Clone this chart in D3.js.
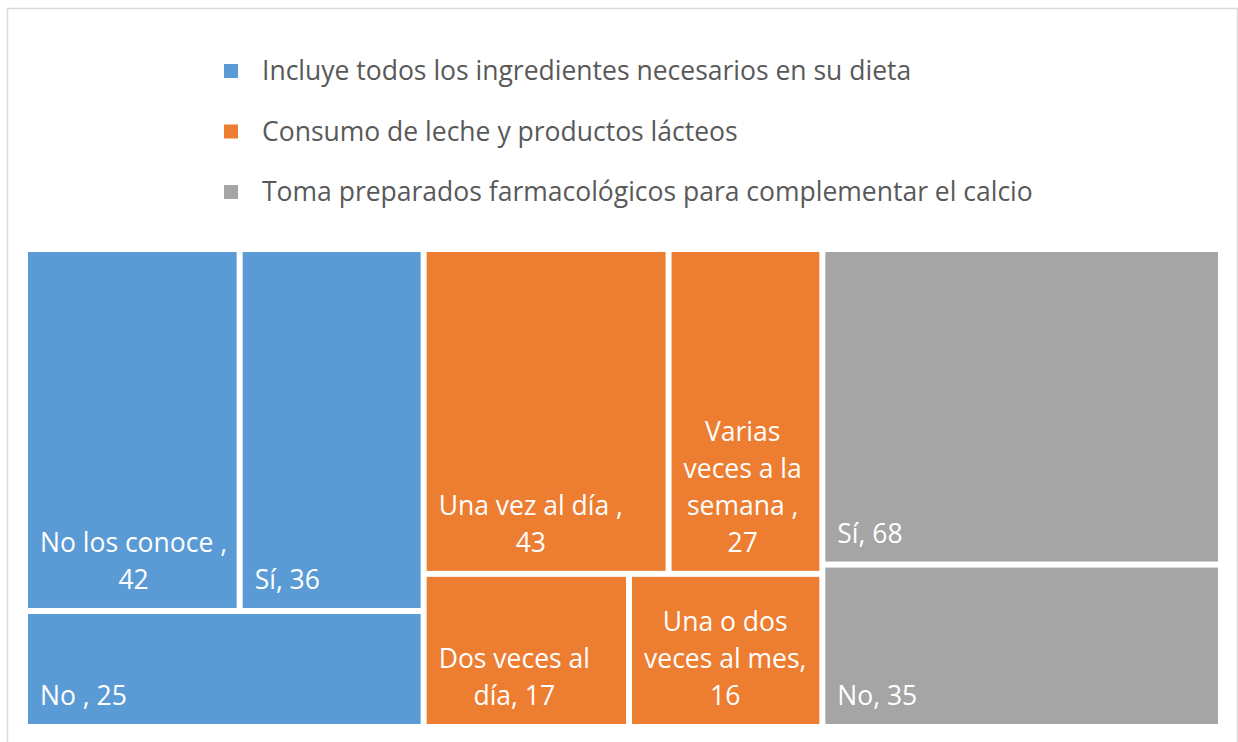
<!DOCTYPE html>
<html>
<head>
<meta charset="utf-8">
<script src="https://cdn.jsdelivr.net/npm/d3@7"></script>
<style>
	body { margin: 0; background: #fff; }
	svg { display: block; font-family: "Open Sans", Lato, sans-serif; }
</style>
</head>
<body>
<div id="chart"></div>
<script>

// categories (legend) and colours
var groupNames = [
	'Incluye todos los ingredientes necesarios en su dieta',
	'Consumo de leche y productos lácteos',
	'Toma preparados farmacológicos para complementar el calcio'
];
var groupColors = ['#5B9BD5', '#ED7D31', '#A5A5A5'];

// leaves of each group
var dietaNames = ['No los conoce ', 'Sí', 'No '];
var dietaValues = [42, 36, 25];

var lecheNames = ['Una vez al día ', 'Varias veces a la semana ', 'Dos veces al día', 'Una o dos veces al mes'];
var lecheValues = [43, 27, 17, 16];

var calcioNames = ['Sí', 'No'];
var calcioValues = [68, 35];

var width = 1238,
	height = 742,
	area = { x: 28, y: 252, w: 1190, h: 472 },
	pad = 12,
	fontSize = 26.5,
	lineHeight = 37;

function leaves(names, values){
	return names.map(function(n, i){ return { name: n, value: values[i] }; });
}

var tree = {
	name: 'root',
	children: [
		{ name: groupNames[0], color: groupColors[0], children: leaves(dietaNames, dietaValues) },
		{ name: groupNames[1], color: groupColors[1], children: leaves(lecheNames, lecheValues) },
		{ name: groupNames[2], color: groupColors[2], children: leaves(calcioNames, calcioValues) }
	]
};

var root = d3.hierarchy(tree)
	.sum(function(d){ return d.children ? 0 : d.value; })
	.sort(function(a, b){ return b.value - a.value; });

d3.treemap()
	.tile(d3.treemapSquarify)
	.size([area.w, area.h])
	.paddingInner(6)
	.round(false)(root);

var svg = d3.select('#chart')
	.append('svg')
	.attr('width', width)
	.attr('height', height);

// chart frame
svg.append('rect')
	.attr('x', 7.5)
	.attr('y', 8.5)
	.attr('width', width - 8)
	.attr('height', height)
	.attr('fill', 'none')
	.attr('stroke', '#d9d9d9')
	.attr('stroke-width', 1.5);

// legend
var legend = svg.append('g').attr('class', 'legend');
var legendY = d3.scalePoint().domain(groupNames).range([71, 192]);

var item = legend.selectAll('g')
	.data(groupNames)
	.enter()
	.append('g')
	.attr('transform', function(d){ return 'translate(224,' + legendY(d) + ')'; });

item.append('rect')
	.attr('x', 0)
	.attr('y', -7)
	.attr('width', 14)
	.attr('height', 14)
	.attr('fill', function(d, i){ return groupColors[i]; });

item.append('text')
	.attr('x', 38)
	.attr('dy', '0.35em')
	.attr('font-size', 26.5)
	.attr('fill', '#595959')
	.text(function(d){ return d; });

// tiles
var plot = svg.append('g')
	.attr('transform', 'translate(' + area.x + ',' + area.y + ')');

var cell = plot.selectAll('g')
	.data(root.leaves())
	.enter()
	.append('g');

cell.append('rect')
	.attr('x', function(d){ return d.x0; })
	.attr('y', function(d){ return d.y0; })
	.attr('width', function(d){ return d.x1 - d.x0; })
	.attr('height', function(d){ return d.y1 - d.y0; })
	.attr('fill', function(d){ return d.parent.data.color; });

// wrap label into lines that fit the tile
var measure = svg.append('text').attr('font-size', fontSize);
function textWidth(s){
	measure.text(s);
	return measure.node().getComputedTextLength();
}

cell.each(function(d){
	var label = d.data.name + ', ' + d.data.value,
		words = label.split(' ').filter(function(w){ return w.length; }),
		maxW = (d.x1 - d.x0) - 2 * pad,
		lines = [],
		line = '';

	words.forEach(function(w){
		var test = line ? line + ' ' + w : w;
		// a lone comma never starts a new line
		if (line && w !== ',' && textWidth(test) > maxW) {
			lines.push(line);
			line = w;
		} else {
			line = test;
		}
	});
	if (line) lines.push(line);

	var blockW = d3.max(lines, textWidth),
		cx = d.x0 + pad + blockW / 2,
		baseY = d.y1 - 19 - (lines.length - 1) * lineHeight;

	var t = d3.select(this).append('text')
		.attr('font-size', fontSize)
		.attr('fill', '#fff')
		.attr('text-anchor', lines.length > 1 ? 'middle' : 'start');

	t.selectAll('tspan')
		.data(lines)
		.enter()
		.append('tspan')
		.attr('x', lines.length > 1 ? cx : d.x0 + pad)
		.attr('y', function(l, i){ return baseY + i * lineHeight; })
		.text(function(l){ return l; });
});

measure.remove();

</script>
</body>
</html>
